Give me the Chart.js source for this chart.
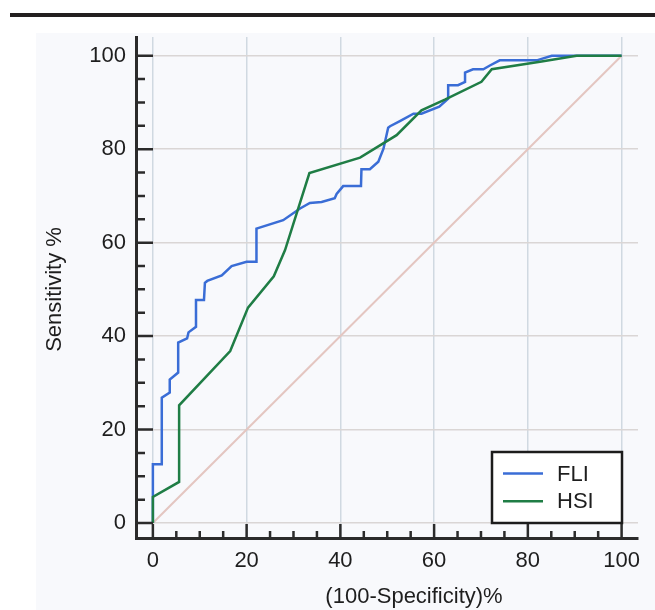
<!DOCTYPE html>
<html>
<head>
<meta charset="utf-8">
<script src="https://cdn.jsdelivr.net/npm/chart.js@4.4.0/dist/chart.umd.min.js"></script>
<style>
  html, body { margin: 0; padding: 0; background: #fff; }
</style>
</head>
<body>
<canvas id="roc" width="655" height="610"></canvas>
<script>
// ROC points, (100-specificity) vs sensitivity
const fliX = [0, 0, 1.9, 1.9, 3.6, 3.6, 5.4, 5.4, 7.3, 7.6, 9.2, 9.2, 10.9, 11.1, 11.6, 14.7, 16.8, 20.0, 22.1, 22.1,
  27.8, 31.4, 33.5, 36.0, 38.8, 39.2, 40.6, 44.4, 44.5, 46.3, 48.1, 49.2, 50.2, 50.6, 52.7, 55.6, 57.3, 61.1,
  63.0, 63.0, 65.1, 66.6, 66.6, 68.3, 70.5, 71.9, 74.0, 81.9, 85.1, 100];
const fliY = [0, 12.6, 12.6, 26.8, 27.9, 30.7, 32.2, 38.6, 39.5, 40.8, 42.0, 47.7, 47.7, 51.4, 51.8, 53.0, 55.0, 55.9, 55.9, 63.0,
  64.8, 67.3, 68.5, 68.7, 69.5, 70.4, 72.1, 72.1, 75.7, 75.7, 77.3, 80.1, 84.6, 84.9, 86.0, 87.6, 87.6, 89.1,
  90.8, 93.7, 93.7, 94.4, 96.4, 97.1, 97.1, 97.9, 99.0, 99.0, 100, 100];

const hsiX = [0, 0, 5.6, 5.6, 16.5, 20.3, 25.8, 28.2, 33.4, 44.2, 52.0, 57.3, 62.3, 70.1, 72.3, 82.6, 90.4, 100];
const hsiY = [0, 5.6, 8.8, 25.2, 36.8, 46.1, 52.8, 58.4, 74.9, 78.2, 83.0, 88.3, 90.6, 94.4, 97.1, 98.7, 100, 100];

const refX = [0, 100];
const refY = [0, 100];

const tickVals = [0, 20, 40, 60, 80, 100];
const seriesNames = ['FLI', 'HSI'];
const xTitle = '(100-Specificity)%';
const yTitle = 'Sensitivity %';

const FONT = '"Liberation Sans", Arial, sans-serif';
const INK = '#1e1e1e';

function pts(xs, ys) {
  return xs.map((x, i) => ({ x: x, y: ys[i] }));
}

function majorTicks(scale) {
  scale.ticks = tickVals.map(v => ({ value: v }));
}

// axes ticks pointing inward, titles and boxed legend
const frame = {
  id: 'frame',
  beforeDraw(chart) {
    const ctx = chart.ctx;
    ctx.save();
    ctx.fillStyle = '#ffffff';
    ctx.fillRect(0, 0, chart.width, chart.height);
    ctx.fillStyle = '#f8f9fc';
    ctx.fillRect(36, 33, chart.width - 36, chart.height - 33);
    ctx.fillStyle = '#231f20';
    ctx.fillRect(10, 13, chart.width - 10, 4);
    ctx.restore();
  },
  afterDraw(chart) {
    const ctx = chart.ctx;
    const xs = chart.scales.x, ys = chart.scales.y;
    const area = chart.chartArea;
    ctx.save();
    ctx.strokeStyle = '#2b2b2b';
    ctx.lineWidth = 2.5;
    ctx.beginPath();
    for (let i = 0; i < tickVals.length; i++) {
      const v = tickVals[i];
      let px = xs.getPixelForValue(v);
      ctx.moveTo(px, area.bottom); ctx.lineTo(px, area.bottom - 14);
      let py = ys.getPixelForValue(v);
      ctx.moveTo(area.left, py); ctx.lineTo(area.left + 17, py);
      if (i < tickVals.length - 1) {
        const step = (tickVals[i + 1] - v) / 4;
        for (let k = 1; k < 4; k++) {
          px = xs.getPixelForValue(v + k * step);
          ctx.moveTo(px, area.bottom); ctx.lineTo(px, area.bottom - 7);
          py = ys.getPixelForValue(v + k * step);
          ctx.moveTo(area.left, py); ctx.lineTo(area.left + 9, py);
        }
      }
    }
    ctx.stroke();

    // axis titles
    ctx.fillStyle = INK;
    ctx.font = '22px ' + FONT;
    ctx.textAlign = 'center';
    ctx.textBaseline = 'middle';
    ctx.fillText(xTitle, (area.left + area.right) / 2 + 27, 597);
    ctx.translate(55, (area.top + area.bottom) / 2 + 2);
    ctx.rotate(-Math.PI / 2);
    ctx.fillText(yTitle, 0, 0);
    ctx.setTransform(1, 0, 0, 1, 0, 0);

    // legend
    const bx = area.right - 146, by = area.bottom - 86, bw = 130, bh = 71;
    ctx.fillStyle = '#ffffff';
    ctx.fillRect(bx, by, bw, bh);
    ctx.strokeStyle = '#1c1c1c';
    ctx.lineWidth = 2.5;
    ctx.strokeRect(bx, by, bw, bh);
    const items = chart.data.datasets.filter(d => seriesNames.includes(d.label));
    items.sort((a, b) => seriesNames.indexOf(a.label) - seriesNames.indexOf(b.label));
    items.forEach((d, i) => {
      const ly = by + 21.5 + i * 27.7;
      ctx.strokeStyle = d.borderColor;
      ctx.lineWidth = 2.5;
      ctx.beginPath();
      ctx.moveTo(bx + 11, ly); ctx.lineTo(bx + 51, ly);
      ctx.stroke();
      ctx.fillStyle = INK;
      ctx.textAlign = 'left';
      ctx.fillText(d.label, bx + 65, ly + 1);
    });
    ctx.restore();
  }
};

new Chart(document.getElementById('roc'), {
  type: 'line',
  data: {
    datasets: [
      { label: seriesNames[0], data: pts(fliX, fliY), borderColor: '#3a6dd6', borderWidth: 2.5, order: 1 },
      { label: seriesNames[1], data: pts(hsiX, hsiY), borderColor: '#1f7d45', borderWidth: 2.5, order: 0 },
      { label: 'ref', data: pts(refX, refY), borderColor: '#e4c6c1', borderWidth: 2, order: 2 }
    ]
  },
  options: {
    responsive: false,
    animation: false,
    devicePixelRatio: 1,
    layout: { padding: { top: 37, right: 17, bottom: 0, left: 0 } },
    elements: { point: { radius: 0 }, line: { tension: 0 } },
    plugins: { legend: { display: false }, tooltip: { enabled: false } },
    scales: {
      x: {
        type: 'linear',
        min: -3.6,
        max: 103.5,
        afterBuildTicks: majorTicks,
        afterFit(s) { s.height = 72; },
        grid: { color: '#d0d9e1', lineWidth: 1.5, drawTicks: false },
        border: { display: true, color: '#2b2b2b', width: 3 },
        ticks: { padding: 10, color: INK, font: { size: 22, family: FONT } }
      },
      y: {
        type: 'linear',
        min: -3.2,
        max: 104.0,
        afterBuildTicks: majorTicks,
        afterFit(s) { s.width = 136; },
        grid: { color: '#dad6d5', lineWidth: 1.5, drawTicks: false },
        border: { display: true, color: '#2b2b2b', width: 3 },
        ticks: { padding: 10, color: INK, font: { size: 22, family: FONT } }
      }
    }
  },
  plugins: [frame]
});
</script>
</body>
</html>
